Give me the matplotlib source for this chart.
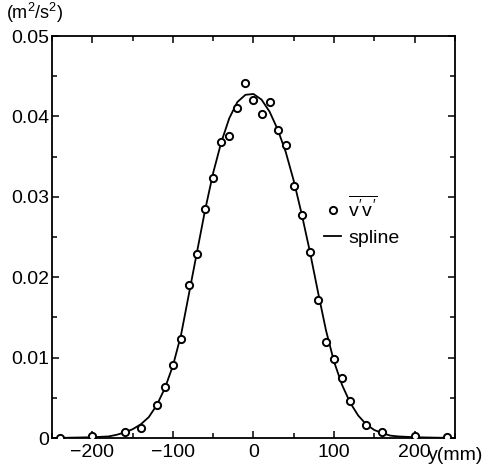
import numpy as np
import matplotlib
matplotlib.use('Agg')
import matplotlib.pyplot as plt
from matplotlib.ticker import MultipleLocator

plt.rcParams['font.family'] = ['Liberation Sans', 'DejaVu Sans']
plt.rcParams['mathtext.fontset'] = 'custom'
plt.rcParams['mathtext.rm'] = 'Liberation Sans'
plt.rcParams['mathtext.it'] = 'Liberation Sans'

# measured v'v' points
y_pts = [-240, -200, -160, -140, -120, -110, -100, -90, -80, -70, -60, -50, -40,
         -30, -20, -10, 0, 10, 20, 30, 40, 50, 60, 70, 80, 90, 100, 110, 120,
         140, 160, 200, 240]
vv_pts = [0.0000, 0.0002, 0.0007, 0.0012, 0.0041, 0.0063, 0.0091, 0.0123, 0.0190,
          0.0229, 0.0285, 0.0324, 0.0368, 0.0376, 0.0410, 0.0442, 0.0420, 0.0403,
          0.0418, 0.0383, 0.0364, 0.0313, 0.0277, 0.0231, 0.0172, 0.0120, 0.0098,
          0.0075, 0.0046, 0.0016, 0.0007, 0.0003, 0.0001]

# spline curve
y_spl = [-250, -200, -180, -170, -160, -150, -140, -130, -120, -110, -100, -90, -80,
         -70, -60, -50, -40, -30, -20, -10, 0, 10, 20, 30, 40, 50, 60, 70, 80, 90,
         100, 110, 120, 130, 140, 150, 160, 170, 180, 200, 250]
vv_spl = [0.0, 0.0001, 0.0002, 0.0004, 0.0007, 0.0011, 0.0017, 0.0026, 0.0041, 0.0062,
          0.0090, 0.0128, 0.0180, 0.0232, 0.0284, 0.0330, 0.0368, 0.0398, 0.0418,
          0.0427, 0.0428, 0.0421, 0.0406, 0.0384, 0.0356, 0.0320, 0.0278, 0.0232,
          0.0182, 0.0134, 0.0095, 0.0066, 0.0044, 0.0028, 0.0017, 0.0010, 0.0006,
          0.0003, 0.0002, 0.0001, 0.0]

xticks = [-200, -100, 0, 100, 200]
xlabels = ['\u2212200', '\u2212100', '0', '100', '200']
yticks = [0, 0.01, 0.02, 0.03, 0.04, 0.05]
ylabels = ['0', '0.01', '0.02', '0.03', '0.04', '0.05']

fig = plt.figure(figsize=(4.87, 4.69), dpi=100)
ax = fig.add_axes([0.107, 0.066, 0.827, 0.857])

ax.plot(y_pts, vv_pts, 'o', mfc='white', mec='black', ms=5.2, mew=1.4,
        label=r"$\overline{v'v'}$", zorder=3)
ax.plot(y_spl, vv_spl, '-', color='black', lw=1.3, label='spline', zorder=2)

ax.set_xlim(-250, 250)
ax.set_ylim(0, 0.05)
ax.set_xticks(xticks)
ax.set_xticklabels(xlabels)
ax.set_yticks(yticks)
ax.set_yticklabels(ylabels)
ax.xaxis.set_minor_locator(MultipleLocator(50))
ax.yaxis.set_minor_locator(MultipleLocator(0.005))
ax.tick_params(which='both', direction='in', top=True, right=True, width=1.1,
               labelsize=14, color='black')
ax.tick_params(which='major', length=5)
ax.tick_params(which='minor', length=3.5)
ax.tick_params(axis='y', pad=2)
ax.tick_params(axis='x', pad=4)
for s in ax.spines.values():
    s.set_linewidth(1.3)

ax.legend(loc='upper left', bbox_to_anchor=(0.675, 0.605), frameon=False,
          fontsize=14, handlelength=0.9, handletextpad=0.35, labelspacing=0.45,
          borderpad=0, borderaxespad=0)

fig.text(0.012, 0.998, r'(m$^2$/s$^2$)', fontsize=13, va='top', ha='left')
fig.text(0.879, 0.02, 'y(mm)', fontsize=14, va='baseline', ha='left')

fig.savefig('out.png', dpi=100)
